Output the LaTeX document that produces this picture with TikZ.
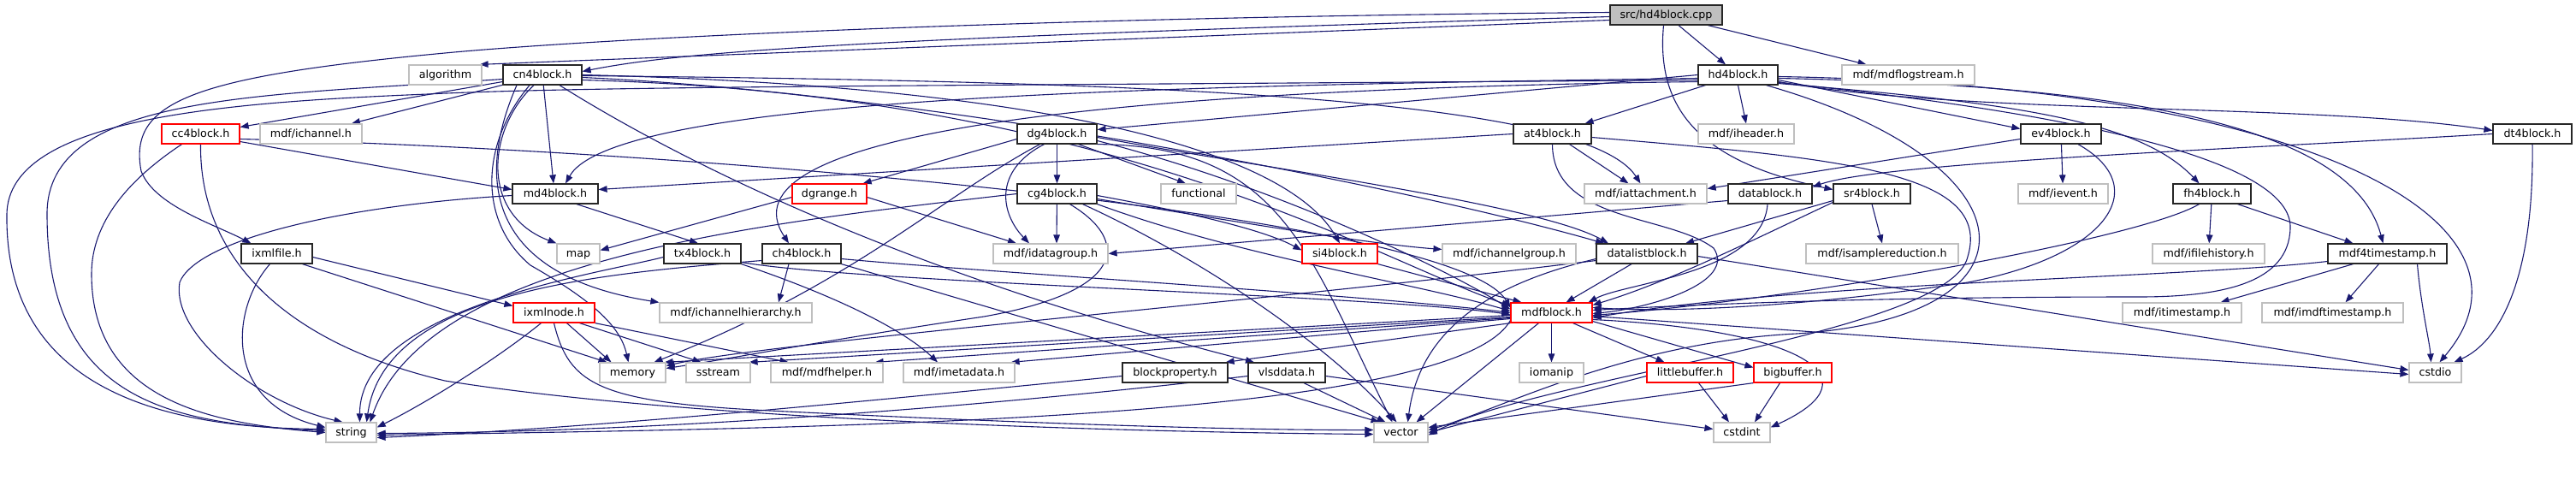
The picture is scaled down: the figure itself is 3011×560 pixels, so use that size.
\documentclass[tikz,border=0pt]{standalone}
\usepackage{fontspec}
\setmainfont{DejaVu Sans}
\usetikzlibrary{arrows.meta}
\definecolor{edgec}{HTML}{191970}
\definecolor{grayb}{HTML}{BFBFBF}
\definecolor{redb}{HTML}{FF0000}
\pgfdeclarelayer{edges}
\pgfsetlayers{edges,main}
\begin{document}
\begin{tikzpicture}[x=1pt,y=1pt,
  bx/.style={rectangle, fill=white, minimum height=23pt, inner sep=0pt, text height=9.5pt, text depth=2.5pt, font=\fontsize{12.7}{14}\selectfont, line width=1.2pt},
  blk/.style={bx, draw=black!85},
  gry/.style={bx, draw=grayb},
  rbx/.style={bx, draw=redb},
  srcb/.style={bx, draw=black!85, fill=grayb},
  edg/.style={draw=edgec, line width=1.1pt, -{Triangle[length=10pt,width=7.5pt]}}]
\useasboundingbox (0,0) rectangle (3011,-560);
% row 0
\node[srcb, minimum width=131pt] (src) at (1947.5,-17.5) {src/hd4block.cpp};
% row 1
\node[gry, minimum width=85pt] (algo) at (520.5,-87.5) {algorithm};
\node[blk, minimum width=92pt] (cn4) at (634,-87.5) {cn4block.h};
\node[blk, minimum width=93pt] (hd4) at (2031.5,-87.5) {hd4block.h};
\node[gry, minimum width=155pt] (logst) at (2230.5,-87.5) {mdf/mdflogstream.h};
% row 2
\node[rbx, minimum width=91pt] (cc4) at (234.5,-156.5) {cc4block.h};
\node[gry, minimum width=119pt] (ichan) at (363.5,-156.5) {mdf/ichannel.h};
\node[blk, minimum width=93pt] (dg4) at (1235.5,-156.5) {dg4block.h};
\node[blk, minimum width=91pt] (at4) at (1814.5,-156.5) {at4block.h};
\node[gry, minimum width=112pt] (ihead) at (2041,-156.5) {mdf/iheader.h};
\node[blk, minimum width=94pt] (ev4) at (2409,-156.5) {ev4block.h};
\node[blk, minimum width=92pt] (dt4) at (2960,-156.5) {dt4block.h};
% row 3
\node[blk, minimum width=100pt] (md4) at (649,-226.5) {md4block.h};
\node[rbx, minimum width=87pt] (dgr) at (969.5,-226.5) {dgrange.h};
\node[blk, minimum width=93pt] (cg4) at (1235.5,-226.5) {cg4block.h};
\node[gry, minimum width=88pt] (func) at (1401,-226.5) {functional};
\node[gry, minimum width=143pt] (iatt) at (1923.5,-226.5) {mdf/iattachment.h};
\node[blk, minimum width=98pt] (datab) at (2069,-226.5) {datablock.h};
\node[blk, minimum width=90pt] (sr4) at (2188,-226.5) {sr4block.h};
\node[gry, minimum width=105pt] (ievt) at (2411.5,-226.5) {mdf/ievent.h};
\node[blk, minimum width=91pt] (fh4) at (2585.5,-226.5) {fh4block.h};
% row 4
\node[blk, minimum width=83pt] (ixf) at (323.5,-296.5) {ixmlfile.h};
\node[gry, minimum width=50pt] (nmap) at (676,-296.5) {map};
\node[blk, minimum width=90pt] (tx4) at (821,-296.5) {tx4block.h};
\node[blk, minimum width=92pt] (ch4) at (937,-296.5) {ch4block.h};
\node[gry, minimum width=134pt] (idg) at (1228,-296.5) {mdf/idatagroup.h};
\node[rbx, minimum width=88pt] (si4) at (1566,-296.5) {si4block.h};
\node[gry, minimum width=156pt] (icg) at (1764,-296.5) {mdf/ichannelgroup.h};
\node[blk, minimum width=118pt] (dlb) at (1925,-296.5) {datalistblock.h};
\node[gry, minimum width=178pt] (isr) at (2200,-296.5) {mdf/isamplereduction.h};
\node[gry, minimum width=131pt] (ifh) at (2581.5,-296.5) {mdf/ifilehistory.h};
\node[blk, minimum width=139pt] (m4ts) at (2790.5,-296.5) {mdf4timestamp.h};
% row 5
\node[rbx, minimum width=95pt] (ixn) at (647.5,-365.5) {ixmlnode.h};
\node[gry, minimum width=178pt] (ichh) at (860,-365.5) {mdf/ichannelhierarchy.h};
\node[rbx, minimum width=95pt] (mdfb) at (1813.5,-365.5) {mdfblock.h};
\node[gry, minimum width=139pt] (its) at (2550.5,-365.5) {mdf/itimestamp.h};
\node[gry, minimum width=165pt] (imts) at (2726.5,-365.5) {mdf/imdftimestamp.h};
% row 6
\node[gry, minimum width=77pt] (mem) at (739.5,-435.5) {memory};
\node[gry, minimum width=75pt] (sst) at (839.5,-435.5) {sstream};
\node[gry, minimum width=131pt] (mhelp) at (966.5,-435.5) {mdf/mdfhelper.h};
\node[gry, minimum width=130pt] (imeta) at (1121,-435.5) {mdf/imetadata.h};
\node[blk, minimum width=123pt] (bprop) at (1373.5,-435.5) {blockproperty.h};
\node[blk, minimum width=90pt] (vlsd) at (1504,-435.5) {vlsddata.h};
\node[gry, minimum width=75pt] (iom) at (1813.5,-435.5) {iomanip};
\node[rbx, minimum width=101pt] (lbuf) at (1975.5,-435.5) {littlebuffer.h};
\node[rbx, minimum width=91pt] (bbuf) at (2095.5,-435.5) {bigbuffer.h};
\node[gry, minimum width=61pt] (cstdio) at (2846.5,-435.5) {cstdio};
% row 7
\node[gry, minimum width=59pt] (nstring) at (410.5,-505.5) {string};
\node[gry, minimum width=63pt] (nvector) at (1637.5,-505.5) {vector};
\node[gry, minimum width=66pt] (cstdint) at (2036,-505.5) {cstdint};

\begin{pgfonlayer}{edges}
% src
\draw[edg] (src) -- (hd4);
\draw[edg] ([yshift=-6]src.west) -- ([xshift=-3]algo.north east);
\draw[edg] ([yshift=-2]src.west) .. controls (1000,-45) and (800,-60) .. ([yshift=4]cn4.east);
\draw[edg] ([yshift=3]src.west) .. controls (1200,-20) and (700,-45) .. (520,-62) .. controls (220,-90) and (150,-120) .. (165,-200) .. controls (180,-240) and (250,-262) .. ([xshift=-30]ixf.north);
\draw[edg] (src) -- (logst);
\draw[edg] ([xshift=-3]src.south) .. controls (1935,-130) and (1990,-190) .. ([yshift=5]sr4.west);
% cn4
\draw[edg] (cn4) -- (cc4);
\draw[edg] (cn4) -- (ichan);
\draw[edg] (cn4) -- ([xshift=-2]md4.north);
\draw[edg] ([xshift=-10]cn4.south) .. controls (570,-150) and (560,-250) .. (nmap.north west);
\draw[edg] ([xshift=-15]cn4.south) .. controls (560,-170) and (560,-260) .. (620,-310) .. controls (690,-350) and (725,-380) .. ([xshift=-5]mem.north);
\draw[edg] ([xshift=-30]cn4.south) .. controls (560,-200) and (560,-320) .. (ichh.north west);
\draw[edg] ([xshift=20]cn4.south) .. controls (830,-210) and (1100,-330) .. ([xshift=-38]vlsd.north);
\draw[edg] (cn4.east) .. controls (1200,-100) and (1500,-170) .. (si4.north);
\draw[edg] ([yshift=-3]cn4.east) .. controls (1100,-110) and (1650,-220) .. ([xshift=-50]dlb.north);
\draw[edg] ([yshift=-1]cn4.east) .. controls (1300,-95) and (1850,-110) .. ([xshift=-6]iatt.north);
\draw[edg] ([yshift=-6]cn4.east) .. controls (1300,-110) and (1600,-300) .. ([yshift=8]mdfb.west);
\draw[edg] ([yshift=-5]cn4.west) .. controls (300,-112) and (55,-110) .. (55,-250) .. controls (55,-470) and (200,-495) .. ([yshift=2]nstring.west);
% hd4
\draw[edg] (hd4.west) -- ([yshift=5]dg4.east);
\draw[edg] ([yshift=-4]hd4.west) .. controls (1400,-100) and (720,-110) .. ([xshift=12]md4.north);
\draw[edg] (hd4) -- (at4);
\draw[edg] ([yshift=-8]hd4.west) .. controls (1250,-105) and (840,-160) .. ([xshift=-15]ch4.north);
\draw[edg] (hd4.south) -- (ihead.north);
\draw[edg] ([yshift=-6]hd4.east) -- ([yshift=6]ev4.west);
\draw[edg] ([yshift=-8]hd4.east) .. controls (2300,-135) and (2700,-120) .. ([yshift=4]dt4.west);
\draw[edg] ([yshift=-10]hd4.east) .. controls (2350,-120) and (2500,-140) .. ([xshift=-15]fh4.north);
\draw[edg] ([yshift=-4]hd4.east) .. controls (2500,-100) and (2750,-150) .. ([xshift=-5]m4ts.north);
\draw[edg] ([yshift=-2]hd4.east) .. controls (2700,-100) and (2990,-260) .. ([xshift=5]cstdio.north);
\draw[edg] ([xshift=33]hd4.south) .. controls (2380,-190) and (2400,-370) .. (2100,-390) .. controls (1900,-400) and (1750,-480) .. ([yshift=3]nvector.east);
\draw[edg] ([yshift=-9]hd4.east) .. controls (2500,-140) and (2680,-200) .. (2677,-267) .. controls (2675,-330) and (2600,-347) .. (2500,-347) .. controls (2200,-347) and (2000,-355) .. ([yshift=3]mdfb.east);
\draw[edg] ([yshift=-6]hd4.west) .. controls (1200,-100) and (700,-100) .. (500,-110) .. controls (250,-120) and (10,-140) .. (8,-250) .. controls (5,-460) and (200,-500) .. ([yshift=4]nstring.west);
% cc4
\draw[edg] ([yshift=-9]cc4.east) -- ([yshift=5]md4.west);
\draw[edg] ([xshift=-22]cc4.south) .. controls (150,-210) and (107,-260) .. (107,-320) .. controls (107,-470) and (250,-495) .. (nstring.west);
\draw[edg] (cc4.south) .. controls (233,-300) and (330,-400) .. (520,-445) .. controls (800,-490) and (1300,-505) .. ([yshift=-2]nvector.west);
\draw[edg] ([yshift=-6]cc4.east) .. controls (800,-175) and (1700,-250) .. ([yshift=6]mdfb.west);
% ixf
\draw[edg] ([yshift=-4]ixf.east) -- ([yshift=8]ixn.west);
\draw[edg] ([xshift=30]ixf.south) -- ([xshift=-30]mem.north);
\draw[edg] ([xshift=-8]ixf.south) .. controls (270,-360) and (260,-470) .. ([yshift=6]nstring.west);
% ixn
\draw[edg] ([xshift=-15]ixn.south) .. controls (580,-420) and (500,-470) .. ([yshift=6]nstring.east);
\draw[edg] ([xshift=15]ixn.south) -- ([xshift=-25]mem.north);
\draw[edg] ([xshift=30]ixn.south) -- ([xshift=-20]sst.north);
\draw[edg] (ixn.south east) -- ([xshift=-45]mhelp.north);
\draw[edg] (ixn.south) .. controls (665,-450) and (700,-470) .. (900,-480) .. controls (1200,-495) and (1450,-503) .. ([yshift=3]nvector.west);
% md4
\draw[edg] ([yshift=-2]md4.west) .. controls (400,-240) and (230,-280) .. (210,-330) .. controls (200,-390) and (300,-470) .. ([xshift=-10]nstring.north);
\draw[edg] ([xshift=25]md4.south) -- ([xshift=-5]tx4.north);
% tx4
\draw[edg] ([yshift=-10]tx4.east) .. controls (1000,-330) and (1600,-345) .. ([yshift=-2]mdfb.west);
\draw[edg] ([yshift=-4]tx4.west) .. controls (700,-320) and (420,-360) .. ([xshift=10]nstring.north);
\draw[edg] (tx4.south east) .. controls (960,-340) and (1050,-380) .. ([xshift=-25]imeta.north);
% ch4
\draw[edg] ([xshift=-15]ch4.south) -- ([xshift=50]ichh.north);
\draw[edg] ([yshift=-6]ch4.east) .. controls (1150,-318) and (1600,-345) .. (mdfb.west);
\draw[edg] ([yshift=-8]ch4.west) .. controls (700,-320) and (450,-340) .. ([xshift=18]nstring.north);
\draw[edg] (ch4.south east) -- ([xshift=-25]nvector.north);
% dgrange
\draw[edg] ([yshift=-4]dgr.west) -- ([yshift=4]nmap.east);
\draw[edg] ([yshift=-4]dgr.east) -- ([xshift=-40]idg.north);
% dg4
\draw[edg] (dg4) -- (cg4);
\draw[edg] ([xshift=25]dg4.south) -- ([xshift=-15]func.north);
\draw[edg] ([yshift=-6]dg4.west) -- ([xshift=-5]dgr.north east);
\draw[edg] ([xshift=-15]dg4.south) .. controls (1160,-200) and (1170,-250) .. ([xshift=-25]idg.north);
\draw[edg] ([yshift=-4]dg4.east) .. controls (1500,-200) and (1800,-240) .. ([xshift=-45]dlb.north);
\draw[edg] ([yshift=-8]dg4.east) .. controls (1500,-220) and (1700,-320) .. ([yshift=4]mdfb.west);
\draw[edg] (dg4.south east) .. controls (1500,-170) and (1530,-300) .. ([xshift=-10]nvector.north);
\draw[edg] ([xshift=-20]dg4.south) .. controls (1100,-230) and (1000,-330) .. ([xshift=25]mem.north);
% cg4
\draw[edg] (cg4) -- ([xshift=7]idg.north);
\draw[edg] ([yshift=-6]cg4.east) .. controls (1450,-260) and (1600,-285) .. ([yshift=5]icg.west);
\draw[edg] ([yshift=-2]cg4.east) .. controls (1400,-250) and (1480,-270) .. ([yshift=4]si4.west);
\draw[edg] (cg4.south east) .. controls (1450,-300) and (1650,-330) .. ([yshift=2]mdfb.west);
\draw[edg] ([xshift=30]cg4.south) .. controls (1400,-300) and (1550,-400) .. ([xshift=-5]nvector.north);
\draw[edg] ([xshift=15]cg4.south) .. controls (1320,-280) and (1320,-340) .. (1150,-370) .. controls (950,-400) and (850,-420) .. ([yshift=5]mem.east);
\draw[edg] (cg4.west) .. controls (900,-260) and (500,-300) .. ([xshift=22]nstring.north);
% at4
\draw[edg] (at4.west) -- ([yshift=5]md4.east);
\draw[edg] ([xshift=20]at4.south) -- ([xshift=-20]iatt.north);
\draw[edg] (at4.south) .. controls (1815,-260) and (1950,-250) .. (2003,-290) .. controls (2030,-330) and (1930,-360) .. ([yshift=-1]mdfb.east);
\draw[edg] ([yshift=-4]at4.east) .. controls (2150,-185) and (2330,-200) .. (2300,-300) .. controls (2280,-390) and (1800,-440) .. ([yshift=-3]nvector.east);
% ev4
\draw[edg] ([yshift=-6]ev4.west) -- ([yshift=6]iatt.east);
\draw[edg] (ev4) -- (ievt);
\draw[edg] ([xshift=20]ev4.south) .. controls (2520,-220) and (2460,-300) .. (2300,-330) .. controls (2100,-360) and (1950,-365) .. ([yshift=6]mdfb.east);
% dt4
\draw[edg] (dt4.west) .. controls (2600,-175) and (2200,-190) .. ([yshift=8]datab.east);
\draw[edg] (dt4.south) .. controls (2962,-330) and (2920,-400) .. ([xshift=22]cstdio.north);
% fh4
\draw[edg] (fh4) -- (ifh);
\draw[edg] ([xshift=30]fh4.south) -- ([xshift=-40]m4ts.north);
\draw[edg] ([xshift=-15]fh4.south) .. controls (2500,-280) and (2100,-350) .. ([yshift=-3]mdfb.east);
% m4ts
\draw[edg] ([xshift=-40]m4ts.south) -- ([xshift=45]its.north);
\draw[edg] ([xshift=-10]m4ts.south) -- ([xshift=15]imts.north);
\draw[edg] ([xshift=35]m4ts.south) .. controls (2830,-360) and (2840,-400) .. ([xshift=-5]cstdio.north);
\draw[edg] ([yshift=-9]m4ts.west) .. controls (2550,-325) and (2100,-330) .. ([yshift=-6]mdfb.east);
% datablock
\draw[edg] ([yshift=-8]datab.west) -- (idg.east);
\draw[edg] ([xshift=-3]datab.south) .. controls (2060,-320) and (1900,-330) .. ([xshift=-5]mdfb.north east);
% sr4
\draw[edg] (sr4.south) -- (isr.north);
\draw[edg] ([yshift=-8]sr4.west) -- ([xshift=45]dlb.north);
\draw[edg] ([yshift=-10]sr4.west) .. controls (2050,-280) and (1950,-330) .. ([yshift=9]mdfb.east);
% si4
\draw[edg] (si4.south east) -- ([xshift=-35]mdfb.north);
% datalistblock
\draw[edg] ([xshift=-18]dlb.south) -- ([xshift=17]mdfb.north);
\draw[edg] ([yshift=-6]dlb.west) .. controls (1750,-330) and (1660,-380) .. ([xshift=8]nvector.north);
\draw[edg] ([yshift=-3]dlb.east) -- ([yshift=3]cstdio.west);
\draw[edg] ([yshift=-8]dlb.west) .. controls (1500,-350) and (900,-400) .. ([yshift=8]mem.east);
% mdfblock
\draw[edg] ([yshift=-3]mdfb.west) -- ([xshift=-2]mem.north east);
\draw[edg] ([yshift=-5]mdfb.west) -- ([xshift=-2]sst.north east);
\draw[edg] ([yshift=-6]mdfb.west) -- ([xshift=-10]mhelp.north east);
\draw[edg] ([yshift=-7]mdfb.west) -- ([xshift=-5]imeta.north east);
\draw[edg] (mdfb.south west) -- ([xshift=-3]bprop.north east);
\draw[edg] (mdfb) -- (iom);
\draw[edg] ([xshift=25]mdfb.south) -- ([xshift=-30]lbuf.north);
\draw[edg] ([yshift=-10]mdfb.east) -- ([yshift=6]bbuf.west);
\draw[edg] ([xshift=-15]mdfb.south) -- ([xshift=18]nvector.north);
\draw[edg] ([yshift=-9]mdfb.west) .. controls (1700,-490) and (1000,-500) .. ([yshift=-3]nstring.east);
\draw[edg] ([yshift=-4]mdfb.east) -- ([yshift=-2]cstdio.west);
\draw[edg] ([yshift=-8]mdfb.east) .. controls (2100,-385) and (2200,-440) .. ([yshift=6]cstdint.east);
% littlebuffer
\draw[edg] ([yshift=-4]lbuf.west) -- (nvector.east);
\draw[edg] ([xshift=10]lbuf.south) -- ([xshift=-15]cstdint.north);
% bigbuffer
\draw[edg] (bbuf.south west) -- ([yshift=6]nvector.east);
\draw[edg] ([xshift=-15]bbuf.south) -- ([xshift=15]cstdint.north);
% blockproperty
\draw[edg] ([yshift=-4]bprop.west) .. controls (1000,-470) and (700,-500) .. ([yshift=-6]nstring.east);
% vlsddata
\draw[edg] ([xshift=20]vlsd.south) -- ([xshift=-18]nvector.north);
\draw[edg] ([yshift=-4]vlsd.west) .. controls (1200,-470) and (800,-505) .. ([yshift=-1]nstring.east);
\draw[edg] ([yshift=-4]vlsd.east) -- ([yshift=4]cstdint.west);
\end{pgfonlayer}
\end{tikzpicture}
\end{document}
